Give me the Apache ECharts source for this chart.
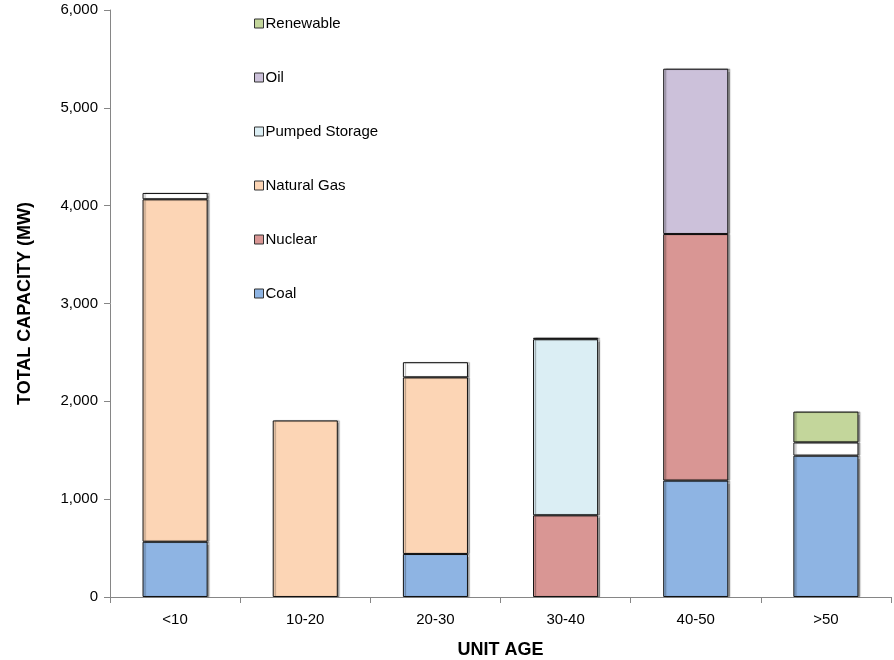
<!DOCTYPE html>
<html><head><meta charset="utf-8">
<script src="https://cdn.jsdelivr.net/npm/echarts@6/dist/echarts.min.js"></script>
<style>html,body{margin:0;padding:0;background:#fff}#c{width:894px;height:660px}</style>
</head><body><div id="c"></div>
<script>
var categories = ['<10', '10-20', '20-30', '30-40', '40-50', '>50'];
var coal = [565, null, 440, null, 1190, 1445];
var nuclear = [null, null, null, 835, 2520, null];
var naturalGas = [3500, 1805, 1805, null, null, null];
var pumpedStorage = [null, null, null, 1800, null, null];
var other = [65, null, 155, 15, null, 135];
var oil = [null, null, null, null, 1690, null];
var renewable = [null, null, null, null, null, 315];
var yTicks = [0, 1000, 2000, 3000, 4000, 5000, 6000];

var font = 'Liberation Sans, Arial, sans-serif';
function mk(name, data, color) {
  return {
    name: name, type: 'bar', stack: 'a', data: data, barWidth: '50%',
    itemStyle: { color: color, borderColor: '#111', borderWidth: 1,
      shadowColor: 'rgba(0,0,0,0.35)', shadowOffsetX: 2, shadowOffsetY: 0, shadowBlur: 1 },
    emphasis: { disabled: true }
  };
}
var chart = echarts.init(document.getElementById('c'), null, { renderer: 'canvas' });
chart.setOption({
  animation: false,
  grid: { left: 110, right: 3, top: 10, bottom: 63, containLabel: false, outerBoundsMode: 'none' },
  legend: {
    orient: 'vertical', left: 249, top: 11,
    data: ['Renewable', 'Oil', 'Pumped Storage', 'Natural Gas', 'Nuclear', 'Coal'],
    itemWidth: 9, itemHeight: 9, itemGap: 39,
    icon: 'rect',
    itemStyle: { borderColor: '#333', borderWidth: 1 },
    textStyle: { fontFamily: font, fontSize: 15, color: '#000', lineHeight: 14, padding: [0, 0, 0, -3] },
    selectedMode: false
  },
  xAxis: {
    type: 'category', data: categories,
    axisLine: { lineStyle: { color: '#868686', width: 1 } },
    axisTick: { show: true, alignWithLabel: false, length: 6, lineStyle: { color: '#868686' } },
    axisLabel: { fontFamily: 'Liberation Sans Narrow, Arial Narrow, ' + font, fontSize: 15, color: '#000', margin: 15 },
    name: 'UNIT AGE', nameLocation: 'middle', nameGap: 44,
    nameTextStyle: { fontFamily: font, fontSize: 18, fontWeight: 'bold', color: '#000' }
  },
  yAxis: {
    type: 'value', min: 0, max: 6000, interval: 1000,
    axisLine: { show: true, lineStyle: { color: '#868686', width: 1 } },
    axisTick: { show: true, length: 6, lineStyle: { color: '#868686' } },
    splitLine: { show: false },
    axisLabel: { fontFamily: font, fontSize: 15, color: '#000', margin: 12,
      formatter: function (v) { return yTicks.indexOf(v) >= 0 ? v.toLocaleString('en-US') : ''; } },
    name: 'TOTAL CAPACITY (MW)', nameLocation: 'middle', nameGap: 76, nameRotate: 90,
    nameTextStyle: { fontFamily: font, fontSize: 18, fontWeight: 'bold', color: '#000' }
  },
  series: [
    mk('Coal', coal, '#8EB4E3'),
    mk('Nuclear', nuclear, '#D99694'),
    mk('Natural Gas', naturalGas, '#FCD5B5'),
    mk('Pumped Storage', pumpedStorage, '#DBEEF4'),
    mk('Other', other, '#FFFFFF'),
    mk('Oil', oil, '#CCC1DA'),
    mk('Renewable', renewable, '#C3D69B')
  ]
});
</script></body></html>
